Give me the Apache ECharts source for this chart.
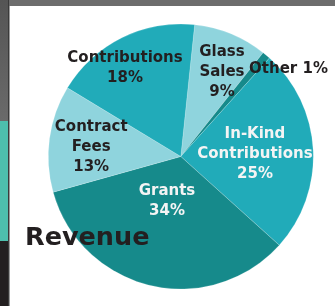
<!DOCTYPE html>
<html>
<head>
<meta charset="utf-8">
<script src="https://cdn.jsdelivr.net/npm/echarts@6/dist/echarts.min.js"></script>
<style>
html,body{margin:0;padding:0;background:#fff;}
#c{width:335px;height:306px;}
</style>
</head>
<body>
<div id="c"></div>
<script>
// Data
var categories = ['Glass\nSales', 'Other', 'In-Kind\nContributions', 'Grants', 'Contract\nFees', 'Contributions'];
var values = [9, 1, 25, 34, 13, 18];
var titleText = 'Revenue';

// Styling (kept separate from data)
var sliceColors = ['#8fd4dd', '#168a8b', '#21abb9', '#168a8b', '#8fd4dd', '#21abb9'];
var labelColors = ['#231f20', '#231f20', '#f4f4f4', '#f4f4f4', '#231f20', '#231f20'];
var labelShift = [[15, -20], [63, -34], [5, 1.5], [2, -22.5], [-21, 0.5], [-25, -26]];

var chart = echarts.init(document.getElementById('c'), null, {renderer: 'canvas'});

var seriesData = categories.map(function (c, i) {
  return {
    name: c,
    value: values[i],
    itemStyle: {color: sliceColors[i]},
    label: {color: labelColors[i]}
  };
});

chart.setOption({
  animation: false,
  title: {
    text: titleText,
    left: 20,
    top: 218,
    textStyle: {fontFamily: 'DejaVu Sans', fontWeight: 'bold', fontSize: 25.5, color: '#231f20', lineHeight: 30}
  },
  graphic: [
    {type: 'rect', shape: {x: 0, y: 0, width: 335, height: 6}, style: {fill: '#6d6d6d'}, z: 10},
    {type: 'rect', shape: {x: 0, y: 0, width: 8, height: 121}, style: {fill: new echarts.graphic.LinearGradient(0, 0, 0, 1, [{offset: 0, color: '#555555'}, {offset: 1, color: '#6a6a6a'}])}, z: 10},
    {type: 'rect', shape: {x: 0, y: 121, width: 8, height: 120}, style: {fill: '#4dbfad'}, z: 10},
    {type: 'rect', shape: {x: 0, y: 241, width: 8, height: 65}, style: {fill: '#231f20'}, z: 10},
    {type: 'rect', shape: {x: 8, y: 0, width: 1, height: 306}, style: {fill: '#3a3a3a'}, z: 10},
    {type: 'rect', shape: {x: 9, y: 6, width: 1, height: 300}, style: {fill: '#9a9a9a'}, z: 10}
  ],
  series: [{
    type: 'pie',
    center: [180.8, 156.5],
    radius: [0, 132.5],
    startAngle: 84,
    clockwise: true,
    data: seriesData,
    itemStyle: {borderColor: 'rgba(255,255,255,0.35)', borderWidth: 0.5},
    label: {
      show: true,
      position: 'inside',
      fontFamily: 'DejaVu Sans',
      fontWeight: 'bold',
      fontSize: 15,
      lineHeight: 20,
      align: 'center',
      formatter: function (p) {
        return p.name === 'Other' ? p.name + ' ' + p.value + '%' : p.name + '\n' + p.value + '%';
      }
    },
    labelLine: {show: false},
    labelLayout: function (p) {
      var s = labelShift[p.dataIndex];
      return {dx: s[0], dy: s[1]};
    },
    emphasis: {disabled: true}
  }]
});
</script>
</body>
</html>
